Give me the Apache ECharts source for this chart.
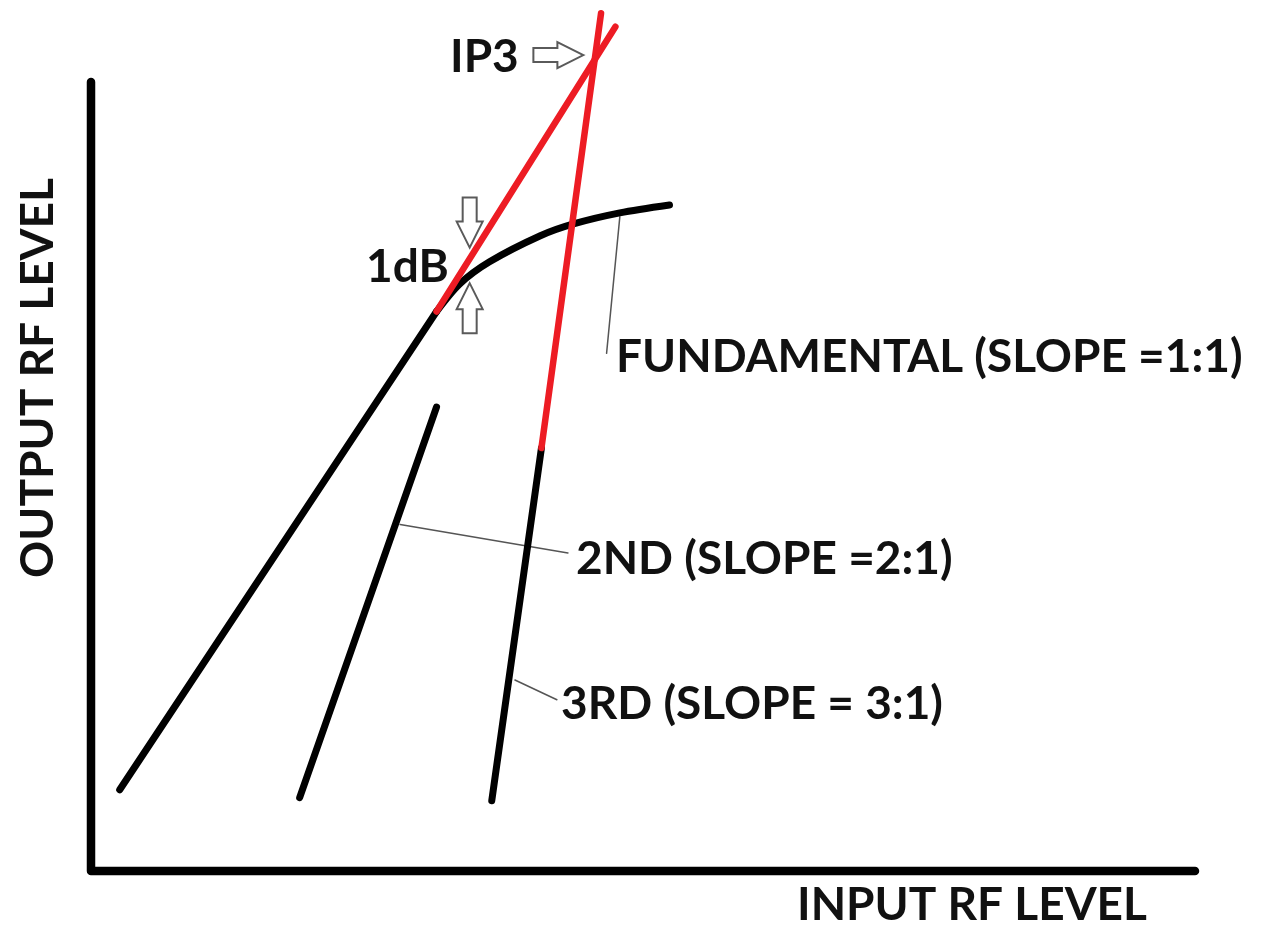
<!DOCTYPE html>
<html>
<head>
<meta charset="utf-8">
<title>Intermodulation and IP3</title>
<script src="https://cdn.jsdelivr.net/npm/echarts@6/dist/echarts.min.js"></script>
<style>
  html, body { margin: 0; padding: 0; background: #fff; }
  #chart { width: 1268px; height: 926px; }
</style>
</head>
<body>
<div id="chart"></div>
<script>
// Input level (x) and output level (y), in arbitrary axis units.
const axisFrameX = [0, 0, 100];
const axisFrameY = [100, 0, 0];

// Fundamental: linear region up to the 1 dB compression knee, then compression.
const fundLinearX = [2.6, 31.3];
const fundLinearY = [10.3, 70.9];
const fundCompX = [31.3, 33.4, 36.1, 40.7, 43.7, 47.9, 52.4];
const fundCompY = [70.9, 74.4, 77.2, 80.5, 82.0, 83.4, 84.4];
// Extrapolated fundamental (1:1)
const fundExtX = [31.3, 47.5];
const fundExtY = [70.9, 107.0];

// 2nd-order product (2:1)
const secondX = [18.9, 31.3];
const secondY = [9.3, 58.8];

// 3rd-order product (3:1) and its extrapolation up to IP3
const thirdX = [36.3, 40.8];
const thirdY = [8.9, 53.6];
const thirdExtX = [40.8, 46.2];
const thirdExtY = [53.6, 108.7];

// Leader lines from each curve to its label
const fundLeaderX = [47.9, 46.7];
const fundLeaderY = [82.9, 65.6];
const secondLeaderX = [28.0, 43.2];
const secondLeaderY = [43.9, 40.3];
const thirdLeaderX = [38.4, 42.2];
const thirdLeaderY = [24.2, 21.7];

// Outline arrows: tip position and pointing direction
const arrowTipX = [44.6, 34.3, 34.3];
const arrowTipY = [103.4, 79.0, 74.5];
const arrowDir = ['right', 'down', 'up'];

// Text labels
const labelTexts = ['IP3', '1dB', 'FUNDAMENTAL (SLOPE =1:1)', '2ND (SLOPE =2:1)', '3RD (SLOPE = 3:1)'];
const xAxisTitle = 'INPUT RF LEVEL';
const yAxisTitle = 'OUTPUT RF LEVEL';

const pairs = (xs, ys) => xs.map((x, i) => [x, ys[i]]);

const BLACK = '#000000';
const RED = '#ED1C24';
const FONT = 'Lato, "Open Sans", sans-serif';

function lineSeries(name, xs, ys, color, width, extra) {
  return Object.assign({
    name: name,
    type: 'line',
    data: pairs(xs, ys),
    symbol: 'none',
    clip: false,
    silent: true,
    animation: false,
    lineStyle: { color: color, width: width, cap: 'round', join: 'round' },
    z: 3
  }, extra || {});
}

// Block arrow outline, pointing right, tip at origin
const ARROW = [[0, 0], [-26, -13], [-26, -7], [-50, -7], [-50, 7], [-26, 7], [-26, 13]];
function rotate(p, dir) {
  if (dir === 'down') return [-p[1], p[0]];
  if (dir === 'up') return [p[1], -p[0]];
  return p;
}

const chart = echarts.init(document.getElementById('chart'), null, { renderer: 'canvas' });

const option = {
  backgroundColor: '#ffffff',
  animation: false,
  grid: { left: 91, right: 73, top: 3, bottom: 55 },
  xAxis: { type: 'value', min: 0, max: 100, show: false },
  yAxis: { type: 'value', min: 0, max: 110, show: false },
  series: [
    lineSeries('axes', axisFrameX, axisFrameY, BLACK, 8.5),
    lineSeries('fundamental', fundLinearX, fundLinearY, BLACK, 7),
    lineSeries('compression', fundCompX, fundCompY, BLACK, 7, { smooth: 0.3 }),
    lineSeries('fundamental extrapolated', fundExtX, fundExtY, RED, 6.5, { z: 4 }),
    lineSeries('2nd order', secondX, secondY, BLACK, 7),
    lineSeries('3rd order', thirdX, thirdY, BLACK, 7),
    lineSeries('3rd order extrapolated', thirdExtX, thirdExtY, RED, 6.5, { z: 4 }),
    lineSeries('fund leader', fundLeaderX, fundLeaderY, '#555555', 1.5, { z: 2 }),
    lineSeries('2nd leader', secondLeaderX, secondLeaderY, '#555555', 1.5, { z: 2 }),
    lineSeries('3rd leader', thirdLeaderX, thirdLeaderY, '#555555', 1.5, { z: 2 }),
    {
      name: 'arrows',
      type: 'custom',
      silent: true,
      clip: false,
      z: 5,
      data: arrowTipX.map((x, i) => [x, arrowTipY[i], i]),
      renderItem: function (params, api) {
        const tip = api.coord([api.value(0), api.value(1)]);
        const dir = arrowDir[api.value(2)];
        const pts = ARROW.map(p => {
          const r = rotate(p, dir);
          return [tip[0] + r[0], tip[1] + r[1]];
        });
        return {
          type: 'polygon',
          shape: { points: pts },
          style: { fill: '#ffffff', stroke: '#5a5a5a', lineWidth: 2, lineJoin: 'miter' }
        };
      }
    }
  ],
  graphic: [
    { type: 'text', left: 450, top: 34, style: { text: labelTexts[0], font: 'bold 46px ' + FONT, fill: '#111' } },
    { type: 'text', left: 366, top: 244, style: { text: labelTexts[1], font: 'bold 46px ' + FONT, fill: '#111' } },
    { type: 'text', left: 616, top: 334, style: { text: labelTexts[2], font: 'bold 46px ' + FONT, fill: '#111' } },
    { type: 'text', left: 576, top: 536, style: { text: labelTexts[3], font: 'bold 46px ' + FONT, fill: '#111' } },
    { type: 'text', left: 561, top: 681, style: { text: labelTexts[4], font: 'bold 46px ' + FONT, fill: '#111' } },
    { type: 'text', left: 797, top: 882, style: { text: xAxisTitle, font: 'bold 46px ' + FONT, fill: '#111' } },
    {
      type: 'text',
      x: 38, y: 378,
      rotation: Math.PI / 2,
      style: { text: yAxisTitle, font: 'bold 46px ' + FONT, fill: '#111', align: 'center', verticalAlign: 'middle' }
    }
  ]
};

chart.setOption(option);
</script>
</body>
</html>
